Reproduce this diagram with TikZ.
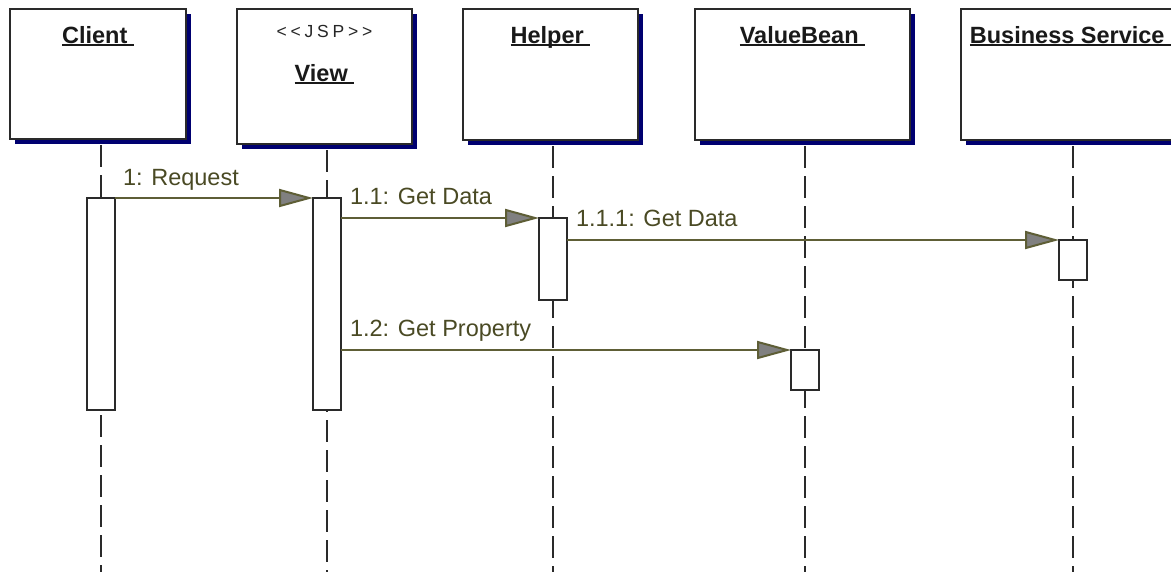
\documentclass[tikz,border=0pt]{standalone}
\usepackage{fontspec}
\setmainfont{Liberation Sans}
\usetikzlibrary{arrows.meta,shadows}
\definecolor{navyshadow}{HTML}{000070}
\definecolor{olivel}{HTML}{5E5E36}
\definecolor{olivet}{HTML}{4A4A24}
\definecolor{headgray}{HTML}{808080}
\definecolor{edgec}{HTML}{2A2A2A}
\newcommand\hdrul[1]{\setbox0\hbox{#1}\rlap{\rule[-3pt]{\wd0}{2pt}}\box0}
\newcommand\jspsp{\hspace{3.8pt}}
\begin{document}
\begin{tikzpicture}[x=1pt,y=-1pt,
  obj/.style={draw=edgec, line width=2pt, fill=white, inner sep=0pt, outer sep=0pt,
    anchor=north west,
    drop shadow={shadow xshift=5pt, shadow yshift=-5pt, fill=navyshadow, opacity=1}},
  hdr/.style={text=black!90, font=\fontsize{23.5pt}{28pt}\selectfont\bfseries, inner sep=0pt, anchor=base},
  bar/.style={draw=edgec, line width=2pt, fill=white, minimum width=28pt, inner sep=0pt, outer sep=0pt, anchor=north},
  life/.style={draw=edgec, line width=2pt, dash pattern=on 22pt off 8pt},
  msg/.style={draw=olivel, line width=2pt, -{Triangle[length=34pt,width=18pt,fill=headgray,line width=2pt]}},
  lbl/.style={text=olivet, font=\fontsize{23.5pt}{28pt}\selectfont, inner sep=0pt, anchor=base west}
]
\useasboundingbox (0,0) rectangle (1171,571);
\fill[white] (0,0) rectangle (1171,571);
\clip (0,0) rectangle (1171,571);

% lifeline ends
\coordinate (cend) at (101,575);
\coordinate (vend) at (327,575);
\coordinate (hend) at (553,575);
\coordinate (vbend) at (805,575);
\coordinate (bend) at (1073,575);

% object boxes
\node[obj, minimum width=176pt, minimum height=130pt] (client) at (10,9) {};
\node[obj, minimum width=175pt, minimum height=135pt] (view) at (237,9) {};
\node[obj, minimum width=175pt, minimum height=131pt] (helper) at (463,9) {};
\node[obj, minimum width=215pt, minimum height=131pt] (valuebean) at (695,9) {};
\node[obj, minimum width=219pt, minimum height=131pt] (business) at (961,9) {};

% lifelines
\draw[life] (client.south -| cend) ++(0,6) -- (cend);
\draw[life] (view.south -| vend) ++(0,6) -- (vend);
\draw[life] (helper.south -| hend) ++(0,6) -- (hend);
\draw[life] (valuebean.south -| vbend) ++(0,6) -- (vbend);
\draw[life] (business.south -| bend) ++(0,6) -- (bend);

% header texts
\node[hdr] (clientname) at (client.center |- 0,43) {\hdrul{Client\ }};
\node[font=\fontsize{17.5pt}{21pt}\selectfont, text=black!85, inner sep=0pt, anchor=base] (jsp) at (view.center |- 0,37)
  {<\jspsp<\jspsp J\jspsp S\jspsp P\jspsp>\jspsp>};
\node[hdr] (viewname) at (view.center |- 0,81) {\hdrul{View\ }};
\node[hdr] (helpername) at (helper.center |- 0,43) {\hdrul{Helper\ }};
\node[hdr] (vbname) at (valuebean.center |- 0,43) {\hdrul{ValueBean\ }};
\node[hdr] (bsname) at (business.center |- 0,43) {\hdrul{Business Service\ }};

% activation bars
\node[bar, minimum height=212pt] (cbar) at (101,198) {};
\node[bar, minimum height=212pt] (vbar) at (327,198) {};
\node[bar, minimum height=82pt] (hbar) at (553,218) {};
\node[bar, minimum height=40pt] (bbar) at (1073,240) {};
\node[bar, minimum height=40pt] (vbbar) at (805,350) {};

% messages
\draw[msg] (cbar.north east) -- (vbar.north west)
  node[lbl, pos=0, xshift=7pt, yshift=13pt] (m1) {1: Request};
\draw[msg] (vbar.east |- hbar.north) -- (hbar.north west)
  node[lbl, pos=0, xshift=8pt, yshift=14pt] (m11) {1.1: Get Data};
\draw[msg] (hbar.east |- bbar.north) -- (bbar.north west)
  node[lbl, pos=0, xshift=8pt, yshift=14pt] (m111) {1.1.1: Get Data};
\draw[msg] (vbar.east |- vbbar.north) -- (vbbar.north west)
  node[lbl, pos=0, xshift=8pt, yshift=14pt] (m12) {1.2: Get Property};
\end{tikzpicture}
\end{document}
